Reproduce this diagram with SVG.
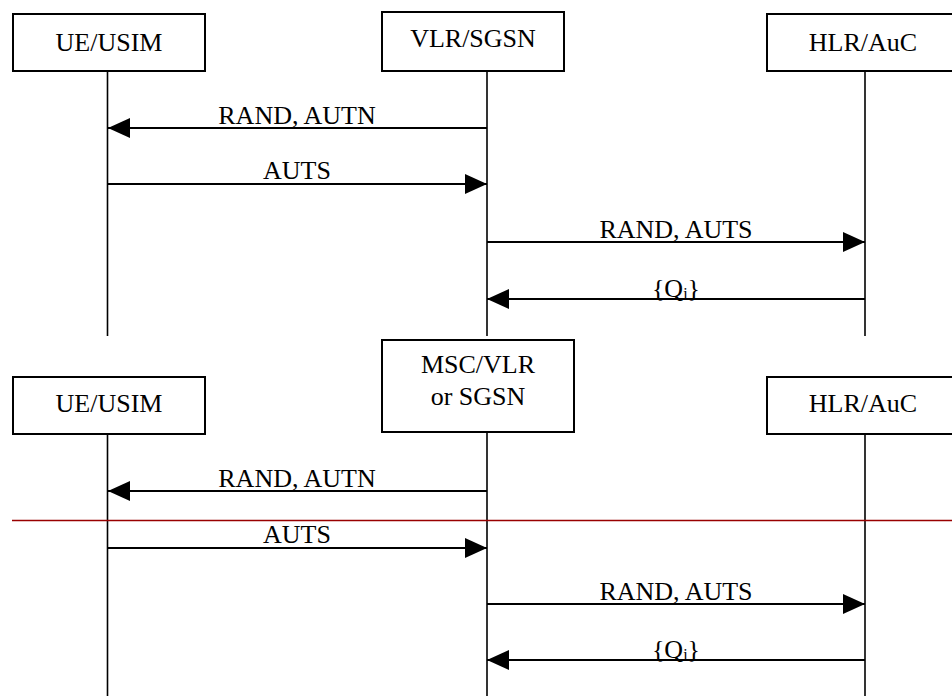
<svg xmlns="http://www.w3.org/2000/svg" width="952" height="696" viewBox="0 0 952 696">
<defs>
<style>
.box{fill:#fff;stroke:#000;stroke-width:2}
.life{stroke:#000;stroke-width:1.6;fill:none}
.msg{stroke:#000;stroke-width:2;fill:none}
.t{font-family:"Liberation Serif","Times New Roman",serif;font-size:26px;fill:#000;text-anchor:middle}
.sub{font-size:16px}
</style>
<marker id="ah" markerUnits="userSpaceOnUse" markerWidth="22" markerHeight="20" viewBox="0 0 20 18" refX="20" refY="9" orient="auto">
<path d="M0,0 L20,9 L0,18 Z" fill="#000"/>
</marker>
</defs>
<rect width="952" height="696" fill="#fff"/>

<g id="ue1"><rect class="box" x="13" y="14" width="192" height="57"/><text class="t" x="109" y="51">UE/USIM</text></g>
<g id="vlr1"><rect class="box" x="382" y="12" width="182" height="59"/><text class="t" x="473" y="47">VLR/SGSN</text></g>
<g id="hlr1"><rect class="box" x="767" y="14" width="192" height="57"/><text class="t" x="863" y="51">HLR/AuC</text></g>

<g id="ue2"><rect class="box" x="13" y="377" width="192" height="57"/><text class="t" x="109" y="412">UE/USIM</text></g>
<g id="msc2"><rect class="box" x="382" y="340" width="192" height="92"/><text class="t" x="478" y="373">MSC/VLR</text><text class="t" x="478" y="405">or SGSN</text></g>
<g id="hlr2"><rect class="box" x="767" y="377" width="192" height="57"/><text class="t" x="863" y="412">HLR/AuC</text></g>

<g id="connectors">
<line class="life" x1="107.5" y1="71" x2="107.5" y2="336"/>
<line class="life" x1="487" y1="71" x2="487" y2="336"/>
<line class="life" x1="865" y1="71" x2="865" y2="336"/>
<line class="life" x1="107.5" y1="434" x2="107.5" y2="696"/>
<line class="life" x1="487" y1="432" x2="487" y2="696"/>
<line class="life" x1="865" y1="434" x2="865" y2="696"/>

<line class="msg" x1="487" y1="128" x2="108" y2="128" marker-end="url(#ah)"/>
<line class="msg" x1="108" y1="184" x2="487" y2="184" marker-end="url(#ah)"/>
<line class="msg" x1="487" y1="242" x2="865" y2="242" marker-end="url(#ah)"/>
<line class="msg" x1="865" y1="299" x2="487" y2="299" marker-end="url(#ah)"/>

<line class="msg" x1="487" y1="491" x2="108" y2="491" marker-end="url(#ah)"/>
<line class="msg" x1="108" y1="548" x2="487" y2="548" marker-end="url(#ah)"/>
<line class="msg" x1="487" y1="604" x2="865" y2="604" marker-end="url(#ah)"/>
<line class="msg" x1="865" y1="660" x2="487" y2="660" marker-end="url(#ah)"/>

<line x1="12" y1="520.5" x2="952" y2="520.5" stroke="#990000" stroke-width="1.3"/>
</g>

<g id="labels">
<text class="t" x="297" y="124">RAND, AUTN</text>
<text class="t" x="297" y="179">AUTS</text>
<text class="t" x="676" y="238">RAND, AUTS</text>
<text class="t" x="676" y="297">{Q<tspan class="sub" dy="2">i</tspan><tspan dy="-2">}</tspan></text>

<text class="t" x="297" y="487">RAND, AUTN</text>
<text class="t" x="297" y="543">AUTS</text>
<text class="t" x="676" y="600">RAND, AUTS</text>
<text class="t" x="676" y="658">{Q<tspan class="sub" dy="2">i</tspan><tspan dy="-2">}</tspan></text>
</g>
</svg>
